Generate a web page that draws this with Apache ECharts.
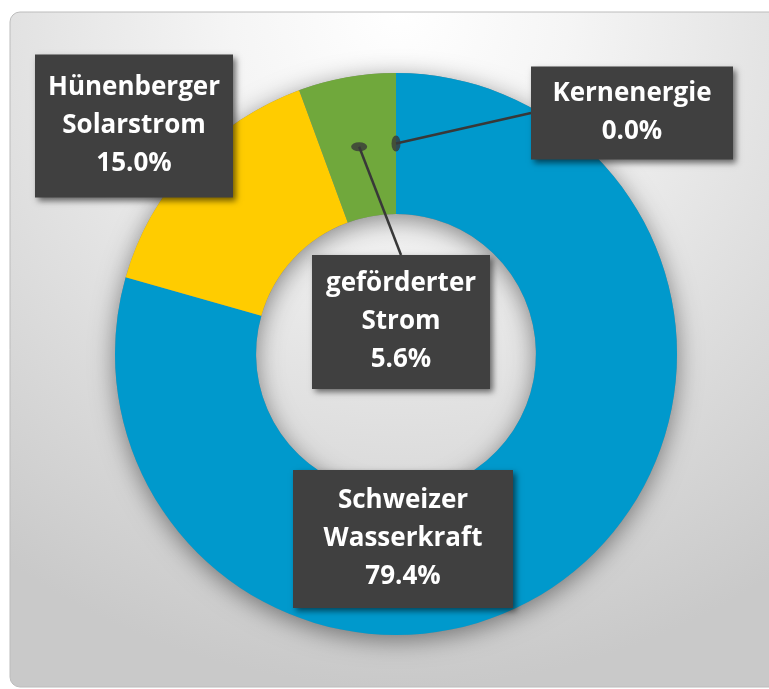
<!DOCTYPE html>
<html>
<head>
<meta charset="utf-8">
<title>Strommix</title>
<script src="https://cdn.jsdelivr.net/npm/echarts@6/dist/echarts.min.js"></script>
<style>
  html, body { margin: 0; padding: 0; background: #fff; }
  #main { width: 769px; height: 689px; }
</style>
</head>
<body>
<div id="main"></div>
<script>
// Strommix (Anteile in %)
var names = ['Schweizer Wasserkraft', 'Hünenberger Solarstrom', 'geförderter Strom', 'Kernenergie'];
var values = [79.4, 15.0, 5.6, 0.0];

// farben + label-boxen (mitte x, mitte y, breite, hoehe)
var colors = ['#0099cc', '#ffcc00', '#70a83c', '#404040'];
var boxes = [
  [403, 539, 220, 138],
  [134, 126, 198, 143],
  [401, 322, 178, 134],
  [632, 113, 202, 93]
];
var withLine = [false, false, true, true];
var dotSize = [null, null, [16, 9], [9, 16]];

var CENTER = [396, 354];
var R0 = 140, R1 = 281;
var LINE_H = 38;

var total = values.reduce(function (a, b) { return a + b; }, 0);

function labelText(i) {
  return names[i].replace(' ', '\n') + '\n' + values[i].toFixed(1) + '%';
}

// daten fuer die ringe
var pieData = names.map(function (n, i) {
  return { name: n, value: values[i], itemStyle: { color: colors[i] } };
});

var labelData = names.map(function (n, i) {
  var lines = labelText(i).split('\n').length;
  var padV = (boxes[i][3] - lines * LINE_H) / 2;
  return {
    name: n,
    value: values[i],
    label: { width: boxes[i][2], padding: [padV, 0, padV, 0] },
    labelLine: { show: withLine[i] }
  };
});

// punkte am anfang der fuehrungslinien (mitte vom ring)
var dots = [];
var acc = 0;
names.forEach(function (n, i) {
  var mid = acc + values[i] / 2;
  acc += values[i];
  if (withLine[i]) {
    dots.push({ value: [(R0 + R1) / 2 / R1, mid], symbolSize: dotSize[i] });
  }
});

var chart = echarts.init(document.getElementById('main'));

chart.setOption({
  animation: false,
  graphic: [{
    type: 'rect',
    z: 0,
    shape: { x: 10, y: 12, width: 780, height: 675, r: 10 },
    style: {
      fill: {
        type: 'radial', x: 0.5, y: 0.0, r: 1,
        colorStops: [
          { offset: 0, color: '#ffffff' },
          { offset: 0.25, color: '#f5f5f5' },
          { offset: 1, color: '#c9c9c9' }
        ]
      },
      stroke: '#bcbcbc',
      lineWidth: 1
    }
  }],
  polar: { center: CENTER, radius: R1 },
  angleAxis: { type: 'value', min: 0, max: total, startAngle: 90, clockwise: true, show: false },
  radiusAxis: { type: 'value', min: 0, max: 1, show: false },
  series: [
    {
      // nur fuer den schatten unter dem ring
      type: 'pie',
      z: 1,
      silent: true,
      center: CENTER,
      radius: [R0, R1],
      label: { show: false },
      labelLine: { show: false },
      itemStyle: {
        color: '#8a8a8a',
        shadowBlur: 24,
        shadowColor: 'rgba(0,0,0,0.45)',
        shadowOffsetY: 5
      },
      data: [total]
    },
    {
      type: 'pie',
      z: 2,
      silent: true,
      center: CENTER,
      radius: [R0, R1],
      startAngle: 90,
      clockwise: true,
      label: { show: false },
      labelLine: { show: false },
      data: pieData
    },
    {
      // unsichtbar, traegt nur die beschriftung
      type: 'pie',
      z: 4,
      silent: true,
      center: CENTER,
      radius: [0, (R0 + R1) / 2],
      startAngle: 90,
      clockwise: true,
      avoidLabelOverlap: false,
      itemStyle: { color: 'rgba(0,0,0,0)' },
      label: {
        show: true,
        position: 'outside',
        formatter: function (p) { return labelText(p.dataIndex); },
        color: '#ffffff',
        fontFamily: 'Open Sans',
        fontWeight: 'bold',
        fontSize: 26,
        lineHeight: LINE_H,
        align: 'center',
        backgroundColor: '#404040',
        shadowColor: 'rgba(0,0,0,0.55)',
        shadowBlur: 6,
        shadowOffsetX: 3,
        shadowOffsetY: 3
      },
      labelLine: {
        length: 10,
        length2: 10,
        lineStyle: { color: '#383838', width: 2.5 }
      },
      labelLayout: function (p) {
        var b = boxes[p.dataIndex];
        var out = { x: b[0], y: b[1], align: 'center', verticalAlign: 'middle' };
        var pts = p.labelLinePoints;
        if (withLine[p.dataIndex] && pts) {
          var s = pts[0];
          var cand = [
            [b[0] - b[2] / 2, b[1]],
            [b[0] + b[2] / 2, b[1]],
            [b[0], b[1] - b[3] / 2],
            [b[0], b[1] + b[3] / 2]
          ];
          var best = cand[0], bd = Infinity;
          cand.forEach(function (c) {
            var d = Math.hypot(c[0] - s[0], c[1] - s[1]);
            if (d < bd) { bd = d; best = c; }
          });
          out.labelLinePoints = [s, best, best];
        }
        return out;
      },
      data: labelData
    },
    {
      type: 'scatter',
      coordinateSystem: 'polar',
      z: 5,
      silent: true,
      symbol: 'circle',
      itemStyle: { color: '#383838' },
      data: dots
    }
  ]
});
</script>
</body>
</html>
